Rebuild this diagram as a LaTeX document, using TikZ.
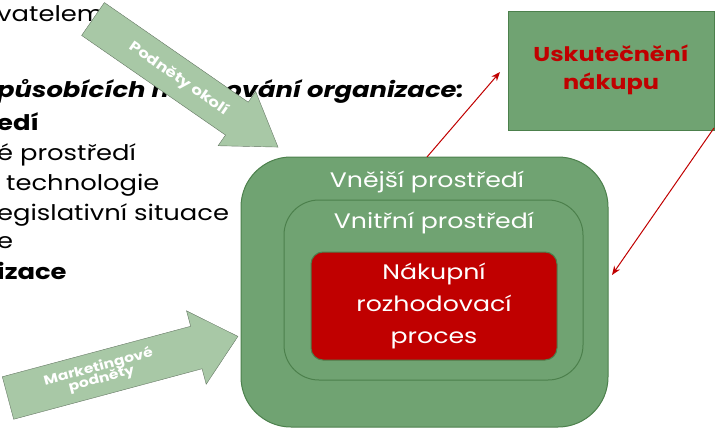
\documentclass[tikz,border=0pt]{standalone}
\usetikzlibrary{arrows.meta}
\usepackage{fontspec}
\setmainfont[FakeStretch=1.2]{Poppins}
\begin{document}
\begin{tikzpicture}[x=1pt,y=-1pt,
  lt/.style={anchor=base west,inner sep=0pt,font=\fontsize{21.5}{24}\selectfont},
  gbox/.style={draw=black!50!green!40!gray,line width=1pt,fill=boxgreen},
  wt/.style={text=white,align=center},
  redarr/.style={dred,line width=1pt,-{Stealth[length=9pt,width=7pt]}}]
\definecolor{boxgreen}{RGB}{112,163,114}
\definecolor{lightg}{RGB}{168,200,166}
\definecolor{dred}{RGB}{192,0,0}
\useasboundingbox (0,0) rectangle (727,433);
% left text
\node[lt] (t1) at (-3,22) {vatelem};
\node[lt,font=\fontsize{21.5}{24}\selectfont\bfseries\itshape] (t2) at (-3,98) {působících na chování organizace:};
\node[lt,font=\fontsize{21.5}{24}\selectfont\bfseries] (t3) at (-3,130) {edí};
\node[lt] (t4) at (-3,160) {é prostředí};
\node[lt] (t5) at (6,190) {technologie};
\node[lt] (t6) at (-3,220) {egislativní situace};
\node[lt] (t7) at (-3,248) {e};
\node[lt,font=\fontsize{21.5}{24}\selectfont\bfseries] (t8) at (-3,279) {izace};
% arrow 1
\begin{scope}[shift={(93,19)},rotate=-34.7]
  \fill[lightg,draw=black!40!lightg] (0,-20) -- (175,-20) -- (175,-33) -- (225,0) -- (175,33) -- (175,20) -- (0,20) -- cycle;
\end{scope}
\node[text=white,font=\fontsize{14}{16}\selectfont\bfseries,rotate=-34.7] (a1) at (179,79) {Podněty okolí};
% arrow 2
\begin{scope}[shift={(8,398)},rotate=15]
  \fill[lightg,draw=black!40!lightg] (0,-22) -- (195,-22) -- (195,-38) -- (238,0) -- (195,38) -- (195,22) -- (0,22) -- cycle;
\end{scope}
\node[text=white,font=\fontsize{13}{14}\selectfont\bfseries,align=center,rotate=15] (a2) at (100,373) {Marketingové\\[-2pt] podněty};
% boxes
\draw[gbox,rounded corners=50] (241,157) rectangle (608,427);
\draw[gbox,rounded corners=35] (284,200) rectangle (583,380);
\draw[draw=black!50!green!40!gray,line width=1pt,fill=dred,rounded corners=12] (311,252) rectangle (557,360);
\node[wt,font=\fontsize{21}{24}\selectfont] (vp) at (427,182) {Vnější prostředí};
\node[wt,font=\fontsize{21}{24}\selectfont] (ip) at (434,223) {Vnitřní prostředí};
\node[wt,font=\fontsize{21}{32}\selectfont] (nrp) at (434,306) {Nákupní\\rozhodovací\\proces};
\coordinate (s1) at (427,157);
\draw[gbox] (508,12) rectangle (714,130);
\node[text=dred,font=\fontsize{20}{28}\selectfont\bfseries,align=center] (un) at (611,70) {Uskutečnění\\nákupu};
\coordinate (e1) at (500,72);
\coordinate (s2) at (714,128);
\coordinate (e2) at (612,275);
\draw[redarr] (s1) -- (e1);
\draw[redarr] (s2) -- (e2);
\end{tikzpicture}
\end{document}
